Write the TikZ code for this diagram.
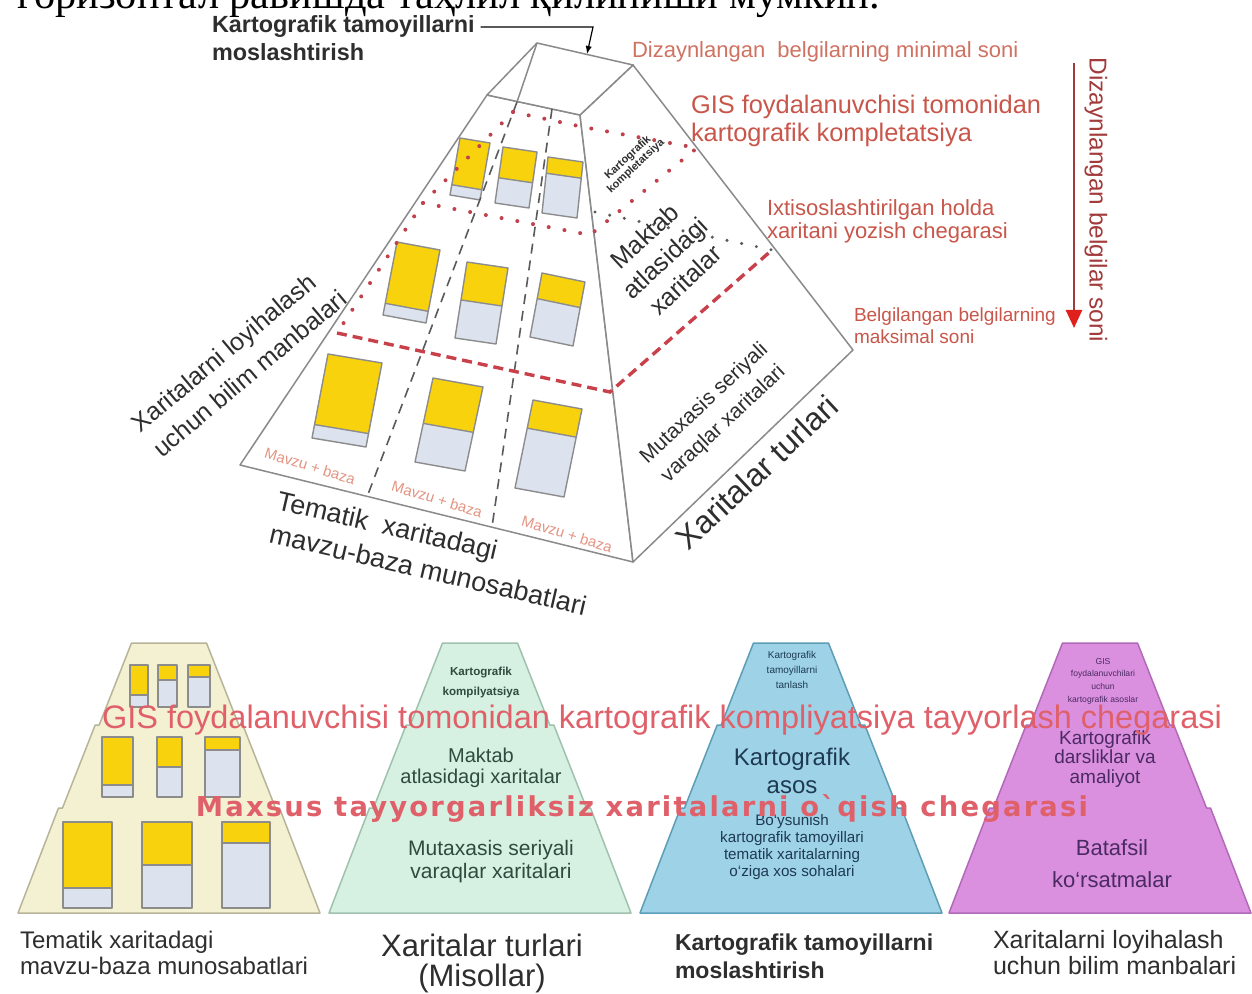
\documentclass[tikz,border=0pt]{standalone}
\usepackage{fontspec}
\setmainfont{Liberation Sans}
\newfontfamily\cyrfont{Liberation Serif}
\newfontfamily\ovfont{DejaVu Sans}[LetterSpace=8]
\usetikzlibrary{arrows.meta,calc}
\newcommand{\fpx}[2]{\fontsize{#1pt}{#2pt}\selectfont}
\definecolor{edgegrey}{HTML}{8A8A8A}
\definecolor{boxyellow}{HTML}{F8D20C}
\definecolor{boxblue}{HTML}{DCE3EF}
\definecolor{boxedge}{HTML}{8C8C8C}
\definecolor{dotred}{HTML}{C0404C}
\definecolor{dashred}{HTML}{C8404A}
\definecolor{dotgrey}{HTML}{5A5A5A}
\definecolor{coldash}{HTML}{5A5A5A}
\definecolor{labred}{HTML}{C8564A}
\definecolor{lightred}{HTML}{D07262}
\definecolor{mavzured}{HTML}{E39482}
\definecolor{arrowline}{HTML}{A23B3B}
\definecolor{arrowhead}{HTML}{E0201C}
\definecolor{darktxt}{HTML}{2E2E2E}
\definecolor{creamF}{HTML}{F4F0D2}\definecolor{creamD}{HTML}{B8B49A}
\definecolor{mintF}{HTML}{D6F1E2}\definecolor{mintD}{HTML}{9FC1AE}
\definecolor{blueF}{HTML}{9ED3E7}\definecolor{blueD}{HTML}{5E9DB6}
\definecolor{magF}{HTML}{DA90DE}\definecolor{magD}{HTML}{B06AB8}
\definecolor{greentxt}{HTML}{2F4B3E}
\definecolor{navytxt}{HTML}{1D3A52}
\definecolor{purpletxt}{HTML}{4B2A63}
\definecolor{ovred}{HTML}{E0606A}
\tikzset{
  edge/.style={draw=edgegrey, line width=0.75pt, line join=round},
  reddot/.style={draw=dotred, line width=2pt, line cap=round, dash pattern=on 0pt off 8pt},
  greydot/.style={draw=dotgrey, line width=1.7pt, line cap=round, dash pattern=on 0pt off 7.5pt},
  reddash/.style={draw=dashred, line width=1.7pt, dash pattern=on 5pt off 3pt},
  coldashed/.style={draw=coldash, line width=0.8pt, dash pattern=on 5pt off 3.5pt},
  boxline/.style={draw=boxedge, line width=0.7pt, line join=round},
  txt/.style={inner sep=0pt, outer sep=0pt},
}
\newcommand{\pbox}[7]{%
  \coordinate (tl) at (#1,#2); \coordinate (tr) at (#3,#4); \coordinate (bl) at (#5,#6);
  \coordinate (br) at ($(tr)+(bl)-(tl)$);
  \coordinate (ml) at ($(tl)!#7!(bl)$); \coordinate (mr) at ($(tr)!#7!(br)$);
  \fill[boxyellow] (tl) -- (tr) -- (mr) -- (ml) -- cycle;
  \fill[boxblue] (ml) -- (mr) -- (br) -- (bl) -- cycle;
  \draw[boxline] (tl) -- (tr) -- (br) -- (bl) -- cycle (ml) -- (mr);}
\newcommand{\flatbox}[5]{%
  \fill[boxyellow] (#1,#2) rectangle (#3,#5);
  \fill[boxblue] (#1,#5) rectangle (#3,#4);
  \draw[boxline] (#1,#2) rectangle (#3,#4) (#1,#5) -- (#3,#5);}
\newcommand{\trap}[3]{%
  \filldraw[fill=#2, draw=#3, line width=0.75pt, line join=round]
  ({#1-37.5},643) -- ({#1+37.5},643) -- ({#1+69.8},725) -- ({#1+73.8},725) --
  ({#1+106.5},808) -- ({#1+110.5},808) -- ({#1+151},913) -- ({#1-151},913) --
  ({#1-110.5},808) -- ({#1-106.5},808) -- ({#1-73.8},725) -- ({#1-69.8},725) -- cycle;}
\begin{document}
\begin{tikzpicture}[x=0.5pt,y=-0.5pt]
\useasboundingbox (0,0) rectangle (1252,994);
\clip (0,0) rectangle (1252,994);
\fill[white] (0,0) rectangle (1252,994);

% cut-off line of the page text
\node[txt, anchor=base west] (cyrl) at (18,9) {\cyrfont\fpx{21.2}{24}горизонтал равишда таҳлил қилиниши мумкин.};

% ---------- 3D pyramid ----------
\coordinate (apex) at (537,43);
\coordinate (topR) at (633,65);
\coordinate (topF) at (580,115);
\coordinate (topL) at (487,95);
\coordinate (botL) at (240,465);
\coordinate (botF) at (633,562);
\coordinate (botR) at (853,350);
\coordinate (innerA) at (517,102);
\coordinate (d1b) at (367,497);
\coordinate (d2t) at (552,109);
\coordinate (d2b) at (492,527);

\filldraw[edge, fill=white] (topL) -- (topF) -- (botF) -- (botL) -- cycle;
\filldraw[edge, fill=white] (topF) -- (topR) -- (botR) -- (botF) -- cycle;
\filldraw[edge, fill=white] (apex) -- (topR) -- (topF) -- (topL) -- cycle;
\draw[edge] (apex) -- (innerA);

% boxes on the front face
\pbox{460}{138}{490}{143}{450}{195}{0.82}
\pbox{503}{147}{537}{152}{495}{203}{0.55}
\pbox{548}{157}{583}{162}{542}{213}{0.29}
\pbox{397}{242}{440}{250}{383}{315}{0.84}
\pbox{467}{262}{508}{268}{455}{338}{0.5}
\pbox{542}{273}{585}{282}{530}{337}{0.4}
\pbox{328}{354}{382}{363}{312}{438}{0.84}
\pbox{433}{378}{483}{387}{415}{462}{0.54}
\pbox{533}{400}{582}{409}{515}{488}{0.32}

% column separators
\draw[coldashed] (innerA) -- (d1b);
\draw[coldashed] (d2t) -- (d2b);

% boundary lines
\coordinate (g1) at (513,112);
\coordinate (g2) at (583,127);
\coordinate (g3) at (697,148);
\coordinate (h1) at (423,203);
\coordinate (h2) at (590,235);
\coordinate (k0) at (595,212);
\coordinate (k1) at (772,250);
\coordinate (m1) at (337,333);
\coordinate (m2) at (610,392);
\draw[reddot] (g1) -- (g2) -- (g3);
\draw[reddot] (g1) -- (h1);
\draw[reddot] (h1) -- (h2) -- (g3);
\draw[reddot] (h1) -- (m1);
\draw[greydot] (k0) -- (k1);
\draw[reddash] (m1) -- (m2) -- (k1);

% texts on the pyramid
\node[txt, rotate=43, align=center, text=darktxt, font=\bfseries\fpx{5.5}{5.8}] (kk) at (632,162) {Kartografik\\kompletatsiya};
\node[txt, rotate=43, align=center, text=darktxt, font=\fpx{12.5}{15}] (maktab) at (665,258) {Maktab\\atlasidagi\\xaritalar};
\node[txt, rotate=43, align=center, text=darktxt, font=\fpx{10.5}{14}] (mutax) at (714,414) {Mutaxasis seriyali\\varaqlar xaritalari};
\node[txt, rotate=43, text=darktxt, font=\fpx{16}{18}] (xturl) at (757,472) {Xaritalar turlari};
\node[txt, rotate=-13, align=left, text=darktxt, font=\fpx{13.5}{17}] (tematik) at (432,553) {Tematik\ \ xaritadagi\\mavzu-baza munosabatlari};
\node[txt, rotate=40, align=left, text=darktxt, font=\fpx{12.5}{16.5}] (xloy) at (239,361) {Xaritalarni loyihalash\\uchun bilim manbalari};
\node[txt, rotate=-17, text=mavzured, font=\fpx{7.5}{9}] (mz1) at (310,466) {Mavzu + baza};
\node[txt, rotate=-17, text=mavzured, font=\fpx{7.5}{9}] (mz2) at (437,499) {Mavzu + baza};
\node[txt, rotate=-17, text=mavzured, font=\fpx{7.5}{9}] (mz3) at (567,534) {Mavzu + baza};

% title with arrow
\node[txt, anchor=west, text=darktxt, font=\bfseries\fpx{11.7}{14}] (kt1) at (212,27) {Kartografik tamoyillarni};
\node[txt, anchor=west, text=darktxt, font=\bfseries\fpx{11.7}{14}] (kt2) at (212,52) {moslashtirish};
\coordinate (ktb) at (593,27);
\coordinate (ktt) at (587,54);
\draw[line width=0.6pt, -{Latex[length=4pt,width=3.2pt]}] ([xshift=3pt]kt1.east) -- (ktb) -- (ktt);

% right labels
\node[txt, anchor=west, text=lightred, font=\fpx{11}{13}] (dmin) at (632,52) {Dizaynlangan\ \ belgilarning minimal soni};
\node[txt, anchor=west, align=left, text=labred, font=\fpx{12.7}{14}] (gis) at (691,121) {GIS foydalanuvchisi tomonidan\\kartografik kompletatsiya};
\node[txt, anchor=west, align=left, text=labred, font=\fpx{11}{11.5}] (ixt) at (767,221.5) {Ixtisoslashtirilgan holda\\xaritani yozish chegarasi};
\node[txt, anchor=west, align=left, text=labred, font=\fpx{9.5}{11}] (belg) at (854,326) {Belgilangan belgilarning\\maksimal soni};
\node[txt, rotate=-90, text=arrowline, font=\fpx{12.2}{14}] (dsoni) at (1096,200) {Dizaynlangan belgilar soni};
\coordinate (ra1) at (1074,63);
\coordinate (ra2) at (1074,328);
\draw[draw=arrowline, line width=1.3pt, -{Triangle[length=9pt,width=8pt,color=arrowhead,fill=arrowhead]}] (ra1) -- (ra2);

% ---------- flat pyramids ----------
\trap{169}{creamF}{creamD}
\trap{480}{mintF}{mintD}
\trap{791}{blueF}{blueD}
\trap{1100}{magF}{magD}

\flatbox{130}{665}{148}{707}{695}
\flatbox{158}{665}{177}{707}{680}
\flatbox{188}{665}{210}{707}{677}
\flatbox{102}{737}{133}{797}{785}
\flatbox{157}{737}{182}{797}{767}
\flatbox{205}{737}{240}{797}{750}
\flatbox{63}{822}{112}{908}{888}
\flatbox{142}{822}{192}{908}{865}
\flatbox{222}{822}{270}{908}{843}

\node[txt, align=center, text=greentxt, font=\bfseries\fpx{5.8}{10}] (t2a) at (481,682) {Kartografik\\kompilyatsiya};
\node[txt, align=center, text=greentxt, font=\fpx{10}{10.5}] (t2b) at (481,768) {Maktab\\atlasidagi xaritalar};
\node[txt, align=center, text=greentxt, font=\fpx{10.5}{11.5}] (t2c) at (491,862) {Mutaxasis seriyali\\varaqlar xaritalari};

\node[txt, align=center, text=navytxt, font=\fpx{5}{7.5}] (t3a) at (792,670) {Kartografik\\tamoyillarni\\tanlash};
\node[txt, align=center, text=navytxt, font=\fpx{12}{14}] (t3b) at (792,771) {Kartografik\\asos};
\node[txt, align=center, text=navytxt, font=\fpx{7.6}{8.5}] (t3c) at (792,847) {Bo`ysunish\\kartografik tamoyillari\\tematik xaritalarning\\o`ziga xos sohalari};

\node[txt, align=center, text=purpletxt, font=\fpx{4.3}{6.3}] (t4a) at (1103,681) {GIS\\foydalanuvchilari\\uchun\\kartografik asoslar};
\node[txt, align=center, text=purpletxt, font=\fpx{9.5}{9.7}] (t4b) at (1105,759) {Kartografik\\darsliklar va\\amaliyot};
\node[txt, align=center, text=purpletxt, font=\fpx{11}{16}] (t4c) at (1112,864) {Batafsil\\ko`rsatmalar};

\node[txt, text=ovred, font=\fpx{16.25}{18}] (ov1) at (662,720) {GIS foydalanuvchisi tomonidan kartografik kompliyatsiya tayyorlash chegarasi};
\node[txt, text=ovred, font=\ovfont\bfseries\fpx{13.7}{16}] (ov2) at (642,808) {Maxsus tayyorgarliksiz xaritalarni o`qish chegarasi};

\node[txt, anchor=west, align=left, text=darktxt, font=\fpx{12}{13}] (lab1) at (20,953) {Tematik xaritadagi\\mavzu-baza munosabatlari};
\node[txt, align=center, text=darktxt, font=\fpx{15.5}{15}] (lab2) at (482,963) {Xaritalar turlari\\(Misollar)};
\node[txt, anchor=west, align=left, text=darktxt, font=\bfseries\fpx{11.5}{14}] (lab3) at (675,956) {Kartografik tamoyillarni\\moslashtirish};
\node[txt, anchor=west, align=left, text=darktxt, font=\fpx{12.5}{13}] (lab4) at (993,953) {Xaritalarni loyihalash\\uchun bilim manbalari};
\end{tikzpicture}
\end{document}
